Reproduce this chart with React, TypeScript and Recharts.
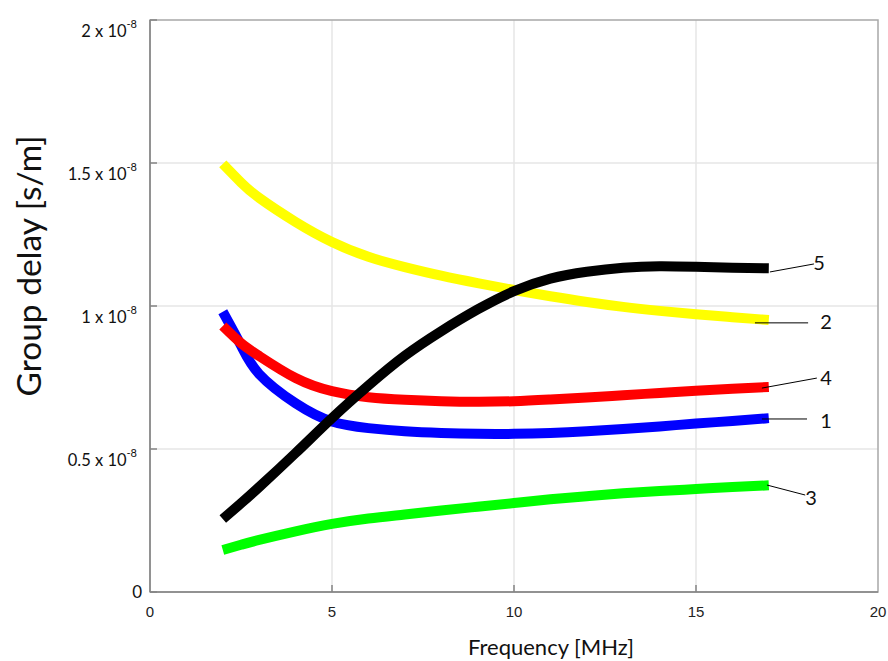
import React from 'react';
import { LineChart, Line, XAxis, YAxis, CartesianGrid, ReferenceLine, ReferenceDot, ReferenceArea } from 'recharts';

// Frequency [MHz]
const freq = [2, 2.5, 3, 4, 5, 6, 7, 8, 9, 10, 11, 12, 13, 14, 15, 16, 17];
// Group delay in units of 1e-8 s/m
const curve1 = [0.980, 0.862, 0.762, 0.660, 0.596, 0.573, 0.562, 0.556, 0.553, 0.553, 0.556, 0.562, 0.570, 0.579, 0.589, 0.598, 0.608];
const curve2 = [1.497, 1.432, 1.378, 1.294, 1.224, 1.172, 1.136, 1.106, 1.080, 1.056, 1.034, 1.014, 0.997, 0.983, 0.971, 0.961, 0.951];
const curve3 = [0.147, 0.165, 0.182, 0.212, 0.238, 0.257, 0.271, 0.285, 0.298, 0.311, 0.324, 0.335, 0.345, 0.353, 0.360, 0.367, 0.373];
const curve4 = [0.930, 0.870, 0.825, 0.748, 0.702, 0.681, 0.672, 0.667, 0.665, 0.667, 0.673, 0.680, 0.688, 0.696, 0.704, 0.711, 0.717];
const curve5 = [0.255, 0.310, 0.367, 0.486, 0.608, 0.722, 0.826, 0.912, 0.988, 1.052, 1.096, 1.120, 1.134, 1.139, 1.137, 1.134, 1.132];

const xTicks = [0, 5, 10, 15, 20];
const yTicks = [0, 0.5, 1, 1.5, 2];

// Curve annotations: label, leader line start/end, text position (data coords)
const annoLabels = ['5', '2', '4', '1', '3'];
const annoFromX = [17.03, 16.62, 16.81, 16.81, 16.95];
const annoFromY = [1.119, 0.941, 0.713, 0.605, 0.374];
const annoToX = [18.24, 18.08, 18.32, 18.05, 18.0];
const annoToY = [1.147, 0.941, 0.748, 0.605, 0.339];
const annoTextX = [18.38, 18.57, 18.57, 18.57, 18.16];
const annoTextY = [1.154, 0.948, 0.752, 0.601, 0.332];

const data = freq.map((f, i) => ({
  f,
  c1: curve1[i],
  c2: curve2[i],
  c3: curve3[i],
  c4: curve4[i],
  c5: curve5[i],
}));

const AXIS = '#858585';
const BOX = '#a8a8a8';
const GRID = '#e6e6e6';
const FONT = 'Lato, "Open Sans", sans-serif';

const YTick = (props: any) => {
  const { x, y, payload } = props;
  const ax = x + 8; // axis line position (tickMargin 8)
  const v = payload.value;
  return (
    <g>
      <line x1={ax} x2={ax + 7} y1={y} y2={y} stroke={AXIS} strokeWidth={1.5} />
      {v === 0 ? (
        <text x={ax - 8} y={y + 6} textAnchor="end" fontFamily={FONT} fontSize={17} fill="#111">0</text>
      ) : (
        <text x={ax - 13} y={y + 17} textAnchor="end" fontFamily={FONT} fontSize={16.5} fill="#111">
          {`${v} x 10`}
          <tspan dy={-9} fontSize={11}>-8</tspan>
        </text>
      )}
    </g>
  );
};

const XTick = (props: any) => {
  const { x, y, payload } = props;
  const ay = y - 8;
  return (
    <g>
      {payload.value !== 0 && payload.value !== 20 && (
        <line x1={x} x2={x} y1={ay} y2={ay - 7} stroke={AXIS} strokeWidth={1.5} />
      )}
      <text x={x} y={ay + 25} textAnchor="middle" fontFamily='"Liberation Sans", Arial, sans-serif' fontSize={15} fill="#222">
        {payload.value}
      </text>
    </g>
  );
};

const TopTick = (props: any) => {
  const { x, y, payload } = props;
  if (payload.value === 0 || payload.value === 20) return null;
  return <line x1={x} x2={x} y1={y} y2={y + 7} stroke={BOX} strokeWidth={1.5} />;
};

const RightTick = (props: any) => {
  const { x, y, payload } = props;
  if (payload.value === 0 || payload.value === 2) return null;
  return <line x1={x} x2={x - 7} y1={y} y2={y} stroke={BOX} strokeWidth={1.5} />;
};

const XLabel = (props: any) => {
  const { viewBox } = props;
  return (
    <text x={viewBox.x + viewBox.width / 2 + 37} y={viewBox.y + 63} textAnchor="middle" fontFamily={FONT} fontSize={22} fill="#111">
      Frequency [MHz]
    </text>
  );
};

const YLabel = (props: any) => {
  const { viewBox } = props;
  const cx = viewBox.x + 28;
  const cy = viewBox.y + viewBox.height / 2 - 40;
  return (
    <text x={cx} y={cy} transform={`rotate(-90 ${cx} ${cy})`} textAnchor="middle" dominantBaseline="central" fontFamily={FONT} fontSize={33.5} fill="#111">
      Group delay [s/m]
    </text>
  );
};

const lineProps = {
  type: 'natural' as const,
  dot: false,
  strokeWidth: 10,
  strokeLinecap: 'butt' as const,
  strokeLinejoin: 'round' as const,
  isAnimationActive: false,
  activeDot: false,
};

export default function App() {
  return (
    <div style={{ position: 'absolute', left: 0, top: 0, background: '#fff' }}>
      <LineChart width={888} height={661} data={data} margin={{ top: 20, right: 10, bottom: 0, left: 0 }}>
        <CartesianGrid stroke={GRID} strokeWidth={1.5} horizontalValues={[0.5, 1, 1.5]} verticalValues={[5, 10, 15]} />
        <ReferenceArea x1={0} x2={20} y1={0} y2={2} fill="none" stroke={BOX} strokeWidth={1.5} ifOverflow="visible" />
        <XAxis
          dataKey="f"
          type="number"
          domain={[0, 20]}
          ticks={xTicks}
          height={69}
          tickSize={0}
          tickMargin={8}
          tick={<XTick />}
          stroke={AXIS}
          strokeWidth={1.5}
          label={<XLabel />}
        />
        <XAxis xAxisId="top" orientation="top" dataKey="f" type="number" domain={[0, 20]} ticks={xTicks} height={0} tickSize={0} tickMargin={0} tick={<TopTick />} axisLine={false} />
        <YAxis
          type="number"
          domain={[0, 2]}
          ticks={yTicks}
          width={150}
          tickSize={0}
          tickMargin={8}
          tick={<YTick />}
          stroke={AXIS}
          strokeWidth={1.5}
          label={<YLabel />}
        />
        <YAxis yAxisId="right" orientation="right" type="number" domain={[0, 2]} ticks={yTicks} width={0} tickSize={0} tickMargin={0} tick={<RightTick />} axisLine={false} />
        <Line dataKey="c3" stroke="#00ff00" {...lineProps} />
        <Line dataKey="c1" stroke="#0000ff" {...lineProps} />
        <Line dataKey="c4" stroke="#ff0000" {...lineProps} />
        <Line dataKey="c2" stroke="#ffff00" {...lineProps} />
        <Line dataKey="c5" stroke="#000000" {...lineProps} />
        {annoLabels.map((lab, i) => (
          <ReferenceLine
            key={`l${i}`}
            segment={[
              { x: annoFromX[i], y: annoFromY[i] },
              { x: annoToX[i], y: annoToY[i] },
            ]}
            stroke="#000"
            strokeWidth={1}
            ifOverflow="visible"
          />
        ))}
        {annoLabels.map((lab, i) => (
          <ReferenceDot
            key={`t${i}`}
            x={annoTextX[i]}
            y={annoTextY[i]}
            r={0}
            fill="none"
            stroke="none"
            ifOverflow="visible"
            label={(p: any) => (
              <text x={p.viewBox.x} y={p.viewBox.y} textAnchor="middle" dominantBaseline="central" fontFamily={FONT} fontSize={20} fill="#111">
                {lab}
              </text>
            )}
          />
        ))}
      </LineChart>
    </div>
  );
}
